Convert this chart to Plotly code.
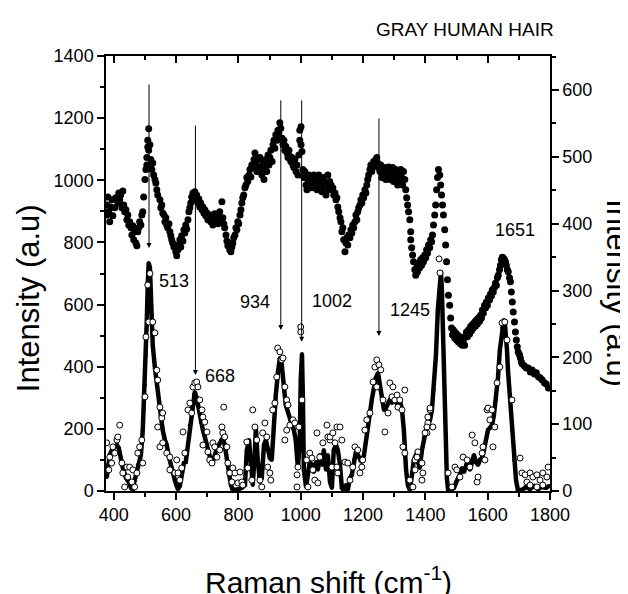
import plotly.graph_objects as go

# ---- data (x: Raman shift cm-1) ----
# raw spectrum (filled dots), right axis units
top_points = [
(377.5,428),(377.5,413),(381,440),(384,418),(387,403),(390,425),(394,436),(397,412),(403,424),(406,439),
(413,431),(416,446),(419,436),(422,443),(426,424),(429,449),(432,428),(435,418),(439,421),(442,406),
(445,413),(448,398),(451,403),(455,394),(458,383),(461,397),(464,376),(467,388),(471,371),(474,367),
(477,388),(480,394),(483,403),(487,398),(490,413),(493,418),(496,440),(500,466),(503,481),(506,488),
(506,499),(509,515),(509,525),(512,510),(512,542),(516,518),(519,496),(519,488),(522,481),(525,491),
(528,473),(532,466),(535,461),(538,451),(541,443),(548,436),(551,424),(554,428),(557,416),(561,413),
(564,403),(567,409),(570,398),(573,394),(577,400),(580,388),(583,382),(586,376),(589,371),(593,365),
(596,368),(599,358),(602,352),(606,361),(609,368),(612,376),(615,365),(618,382),(622,374),(625,391),
(628,386),(631,398),(634,392),(638,406),(641,418),(644,424),(647,431),(650,440),(654,446),(657,436),
(660,448),(663,440),(666,443),(670,431),(673,437),(676,425),(679,431),(683,421),(686,425),(689,416),
(692,421),(695,412),(699,416),(702,406),(705,413),(708,409),(711,403),(715,413),(718,398),(721,407),
(724,415),(728,403),(731,409),(734,400),(737,410),(740,418),(744,406),(747,433),(750,409),(753,400),
(756,394),(760,383),(763,374),(766,367),(769,371),(772,361),(776,358),(779,365),(782,371),(785,379),
(789,383),(792,394),(795,391),(798,403),(801,400),(805,413),(808,421),(811,431),(814,439),(817,443),
(821,454),(824,458),(827,469),(830,463),(834,473),(837,481),(840,470),(843,488),(846,484),(850,496),
(853,506),(856,488),(859,478),(863,496),(866,485),(869,499),(872,481),(875,473),(879,491),(882,466),
(885,484),(888,496),(891,478),(895,503),(898,488),(901,499),(904,510),(908,493),(911,518),(914,525),
(917,513),(920,533),(924,525),(927,540),(930,536),(933,551),(936,543),(940,528),(943,518),(946,525),
(949,510),(952,516),(956,506),(959,499),(962,510),(965,501),(968,493),(972,499),(975,488),(978,484),
(981,496),(985,478),(988,488),(991,473),(994,503),(997,525),(997,540),(1001,545),(1001,518),(1004,508),
(1007,481),(1010,469),(1013,478),(1017,458),(1020,451),(1023,466),(1026,473),(1029,458),(1033,469),(1036,454),
(1039,463),(1042,473),(1045,458),(1049,469),(1052,451),(1055,461),(1058,473),(1061,455),(1065,466),(1068,448),
(1071,458),(1074,469),(1077,454),(1081,443),(1084,461),(1087,473),(1090,451),(1093,463),(1097,458),(1100,451),
(1103,454),(1106,443),(1110,446),(1113,436),(1116,439),(1119,425),(1122,418),(1126,409),(1129,403),(1132,388),
(1135,394),(1138,376),(1142,358),(1145,371),(1148,379),(1151,368),(1154,383),(1158,379),(1161,391),(1164,386),
(1167,398),(1170,394),(1174,403),(1177,413),(1180,406),(1183,418),(1186,424),(1190,428),(1193,436),(1196,431),
(1199,443),(1202,439),(1206,451),(1209,446),(1212,458),(1215,466),(1218,473),(1222,481),(1225,488),(1228,478),
(1231,484),(1234,493),(1238,488),(1241,496),(1244,499),(1247,491),(1250,484),(1254,478),(1257,488),(1260,469),
(1263,481),(1266,473),(1270,484),(1273,466),(1276,478),(1279,472),(1282,485),(1286,466),(1289,478),(1292,472),
(1295,484),(1298,463),(1302,475),(1305,481),(1308,469),(1311,458),(1314,473),(1318,466),(1321,481),(1324,469),
(1327,458),(1330,478),(1334,466),(1337,451),(1340,439),(1343,428),(1346,418),(1350,406),(1353,388),(1353,376),
(1356,364),(1359,353),(1362,343),(1366,331),(1369,323),(1372,334),(1375,328),(1378,341),(1382,334),(1385,346),
(1388,338),(1391,349),(1394,343),(1398,353),(1401,349),(1404,361),(1407,356),(1410,368),(1414,364),(1417,376),
(1420,373),(1423,383),(1426,398),(1430,413),(1433,428),(1436,451),(1439,469),(1442,481),(1446,473),(1449,458),
(1452,443),(1455,428),(1458,413),(1462,391),(1465,368),(1468,343),(1471,316),(1474,293),(1478,278),(1481,259),
(1484,244),(1487,234),(1490,241),(1494,229),(1497,237),(1500,226),(1503,234),(1506,223),(1510,231),(1513,220),
(1516,229),(1519,218),(1522,226),(1526,218),(1529,232),(1532,238),(1535,231),(1538,241),(1542,235),(1545,246),
(1548,240),(1551,249),(1554,244),(1558,253),(1561,247),(1564,256),(1567,250),(1570,259),(1574,254),(1577,263),
(1580,259),(1583,271),(1586,266),(1590,278),(1593,274),(1596,283),(1599,278),(1602,289),(1606,286),(1609,295),
(1612,292),(1615,301),(1618,298),(1622,305),(1625,311),(1628,308),(1631,319),(1634,323),(1638,331),(1641,338),
(1644,346),(1647,350),(1650,349),(1654,346),(1657,343),(1660,338),(1663,331),(1666,328),(1670,319),(1673,313),
(1676,298),(1679,283),(1682,268),(1686,253),(1689,238),(1692,226),(1695,216),(1698,208),(1702,204),(1705,199),
(1708,193),(1711,190),(1718,187),(1724,184),(1730,184),(1737,178),(1743,181),(1750,175),(1756,177),(1763,171),
(1769,169),(1775,166),(1782,162),(1788,160),(1795,154),
]

# processed spectrum, smoothed curve (thick line), left axis units
line_points = [
(377.5,45),(381,84),(387,116),(394,132),(403,142),(410,148),(416,138),(422,106),(429,74),(439,42),
(448,29),(455,10),(461,3),(467,35),(477,84),(487,116),(493,196),(496,261),(500,341),(503,438),
(506,550),(509,663),(512,734),(516,718),(519,631),(522,550),(525,470),(532,396),(538,341),(545,293),
(551,245),(557,196),(564,164),(570,148),(577,109),(583,80),(589,58),(596,35),(602,16),(606,6),
(612,16),(618,52),(625,90),(631,93),(638,148),(644,212),(650,267),(657,309),(660,319),(666,299),
(673,261),(679,222),(686,196),(692,174),(699,148),(705,126),(711,100),(718,93),(724,116),(731,138),
(737,148),(744,164),(750,171),(756,148),(763,100),(769,52),(776,19),(782,3),(792,3),(801,6),
(811,10),(821,19),(827,132),(834,164),(840,93),(846,19),(853,132),(856,203),(862,100),(869,29),
(875,42),(882,148),(888,164),(895,132),(901,106),(907,100),(914,229),(920,309),(927,383),(933,428),
(939,406),(946,341),(952,277),(959,254),(965,229),(972,212),(978,196),(984,164),(991,74),(997,164),
(1000,357),(1004,441),(1007,293),(1010,68),(1017,13),(1023,52),(1029,93),(1036,84),(1042,61),(1049,93),
(1055,68),(1061,116),(1068,84),(1074,132),(1081,68),(1087,116),(1094,29),(1100,10),(1106,132),(1113,148),
(1119,132),(1126,84),(1132,10),(1138,3),(1145,19),(1151,3),(1158,42),(1164,52),(1171,100),(1177,126),
(1183,116),(1190,100),(1196,93),(1203,116),(1209,164),(1216,212),(1222,245),(1228,293),(1235,332),(1241,364),
(1248,380),(1254,341),(1261,293),(1267,261),(1273,267),(1280,283),(1286,293),(1293,283),(1299,299),(1305,286),
(1312,277),(1318,293),(1325,261),(1331,196),(1334,116),(1338,68),(1344,19),(1350,3),(1357,52),(1363,100),
(1370,116),(1376,93),(1382,74),(1389,132),(1395,171),(1402,196),(1408,212),(1415,229),(1421,261),(1427,325),
(1434,438),(1440,583),(1447,702),(1450,705),(1453,647),(1456,518),(1460,357),(1463,229),(1466,116),(1469,42),
(1473,3),(1482,3),(1492,10),(1498,29),(1505,42),(1511,52),(1518,74),(1524,61),(1530,84),(1537,100),
(1543,68),(1550,100),(1556,116),(1562,93),(1569,84),(1575,100),(1582,106),(1588,132),(1594,164),(1601,196),
(1607,203),(1614,212),(1620,245),(1626,293),(1633,364),(1639,454),(1646,525),(1649,547),(1652,550),(1655,541),
(1659,502),(1662,454),(1665,390),(1672,293),(1678,196),(1684,100),(1691,35),(1697,3),(1710,3),(1723,13),
(1736,6),(1749,16),(1762,6),(1774,13),(1787,10),(1797,16),
]

# processed spectrum, measured points (open circles), left axis units
circle_points = [
(377,155),(387,109),(384,68),(393,90),(397,142),(410,164),(413,174),(419,212),(403,122),(426,90),
(429,58),(435,13),(442,77),(445,45),(451,77),(458,29),(461,68),(467,13),(474,58),(477,122),
(483,142),(490,164),(493,90),(500,303),(503,496),(512,544),(509,663),(516,700),(525,544),(532,509),
(538,389),(541,357),(548,270),(554,235),(557,251),(541,206),(548,142),(557,155),(570,122),(580,109),
(580,68),(596,58),(602,100),(606,58),(612,35),(618,74),(622,190),(628,122),(638,261),(644,283),
(650,251),(654,335),(660,348),(666,351),(670,335),(676,293),(683,261),(686,238),(686,148),(692,222),
(699,190),(702,126),(708,100),(715,90),(718,155),(724,142),(731,109),(740,132),(747,206),(750,187),
(753,270),(756,174),(763,142),(766,90),(772,58),(779,29),(782,74),(789,58),(798,26),(805,61),
(811,29),(814,19),(827,158),(830,74),(843,35),(846,261),(853,206),(859,164),(869,35),(875,13),
(878,187),(885,219),(891,174),(894,77),(901,58),(904,35),(910,261),(917,283),(923,367),(926,460),
(933,448),(939,422),(943,428),(949,335),(955,293),(959,277),(955,196),(949,164),(965,212),(975,229),
(981,219),(988,52),(988,13),(991,77),(994,206),(1000,528),(1000,512),(1004,293),(1019,100),(1023,13),
(1029,122),(1036,106),(1039,68),(1045,35),(1052,187),(1055,26),(1061,109),(1071,155),(1084,212),(1087,174),
(1094,164),(1100,77),(1110,155),(1116,206),(1119,58),(1094,174),(1103,187),(1126,206),(1116,77),(1132,164),
(1142,93),(1151,90),(1158,35),(1167,77),(1174,142),(1183,132),(1190,58),(1196,77),(1199,100),(1206,196),
(1212,229),(1222,251),(1232,351),(1238,399),(1244,422),(1251,406),(1257,390),(1244,335),(1264,293),(1270,190),
(1280,251),(1286,348),(1293,303),(1296,335),(1302,293),(1309,309),(1312,270),(1318,293),(1325,261),(1334,325),
(1328,142),(1334,122),(1350,35),(1360,13),(1367,100),(1376,122),(1389,90),(1392,58),(1405,187),(1408,219),
(1415,261),(1424,206),(1415,267),(1408,238),(1405,206),(1399,187),(1376,126),(1373,109),(1367,68),(1389,35),
(1444,747),(1447,702),(1473,58),(1485,13),(1495,77),(1501,68),(1511,45),(1521,109),(1534,100),(1543,77),
(1550,180),(1559,155),(1566,29),(1569,45),(1582,122),(1585,142),(1591,100),(1598,261),(1601,267),(1607,229),
(1614,261),(1617,142),(1623,206),(1630,348),(1639,399),(1646,541),(1655,544),(1662,486),(1678,293),(1704,106),
(1710,58),(1720,52),(1726,29),(1736,58),(1745,45),(1758,52),(1768,35),(1777,58),(1790,45),(1794,77),
(1736,19),(1758,13),(1777,19),
]

x_ticks = [400, 600, 800, 1000, 1200, 1400, 1600, 1800]
left_ticks = [0, 200, 400, 600, 800, 1000, 1200, 1400]
right_ticks = [0, 100, 200, 300, 400, 500, 600]

peak_labels = ["513", "668", "934", "1002", "1245", "1651"]

FONT = "Liberation Sans, Arial, sans-serif"

tx, ty = zip(*top_points)
lx, ly = zip(*line_points)
cx, cy = zip(*circle_points)

fig = go.Figure()
fig.add_trace(go.Scatter(x=lx, y=ly, mode="lines+markers",
                         line=dict(color="black", width=4.5),
                         marker=dict(size=4, color="black"), showlegend=False))
fig.add_trace(go.Scatter(x=cx, y=cy, mode="markers",
                         marker=dict(size=6, color="white", line=dict(color="black", width=1)),
                         showlegend=False))
fig.add_trace(go.Scatter(x=tx, y=ty, mode="markers", yaxis="y2",
                         marker=dict(size=7, color="black", line=dict(width=0)),
                         showlegend=False))
# empty trace to carry the top mirror axis
fig.add_trace(go.Scatter(x=[], y=[], xaxis="x2", showlegend=False))

axis_common = dict(showline=True, linecolor="black", linewidth=1.5, showgrid=False,
                   zeroline=False, tickcolor="black", tickwidth=1.5,
                   tickfont=dict(family=FONT, size=18, color="black"))

# the page body has an 8 px default margin, so the figure is 8 px smaller
fig.update_layout(
    width=620, height=586,
    margin=dict(l=98, r=78, t=48, b=103),
    paper_bgcolor="white", plot_bgcolor="white",
    xaxis=dict(range=[375, 1800], tickvals=x_ticks, ticks="outside", ticklen=7,
               minor=dict(dtick=100, tick0=0, ticks="outside", ticklen=4, tickwidth=1.5, tickcolor="black"),
               **axis_common),
    xaxis2=dict(range=[375, 1800], overlaying="x", side="top", anchor="y",
                tickvals=x_ticks, ticks="inside", ticklen=7, showticklabels=False,
                minor=dict(dtick=100, tick0=0, ticks="inside", ticklen=4, tickwidth=1.5, tickcolor="black"),
                **axis_common),
    yaxis=dict(range=[0, 1400], tickvals=left_ticks, ticks="outside", ticklen=7,
               minor=dict(dtick=100, tick0=0, ticks="outside", ticklen=4, tickwidth=1.5, tickcolor="black"),
               **axis_common),
    yaxis2=dict(range=[0, 651], overlaying="y", side="right", anchor="x",
                tickvals=right_ticks, ticks="outside", ticklen=7,
                minor=dict(dtick=50, tick0=0, ticks="outside", ticklen=4, tickwidth=1.5, tickcolor="black"),
                **axis_common),
)

ann = []
title_font = dict(family=FONT, size=31, color="black")
ann.append(dict(text="Raman shift (cm<sup>-1</sup>)", xref="paper", yref="paper", x=0.5, y=-0.205,
                xanchor="center", yanchor="middle", showarrow=False,
                font=dict(family=FONT, size=30, color="black")))
ann.append(dict(text="Intensity (a.u)", xref="paper", yref="paper", x=-0.176, y=0.443,
                xanchor="center", yanchor="middle", textangle=-90, showarrow=False, font=title_font))
ann.append(dict(text="Intensity (a.u)", xref="paper", yref="paper", x=1.153, y=0.455,
                xanchor="center", yanchor="middle", textangle=90, showarrow=False, font=title_font))
ann.append(dict(text="GRAY HUMAN HAIR", xref="paper", yref="paper", x=1.0135, y=1.062,
                xanchor="right", yanchor="middle", showarrow=False,
                font=dict(family=FONT, size=19, color="black")))

# arrows: (arrow x, top, tip)
arrows = [(513, 1313, 782), (662, 1181, 373), (936, 1262, 518), (1003, 1262, 480), (1251, 1204, 499)]
for ax_, top, tip in arrows:
    ann.append(dict(x=ax_, y=tip, ax=ax_, ay=top, xref="x", yref="y", axref="x", ayref="y",
                    text="", showarrow=True, arrowhead=2, arrowsize=1, arrowwidth=1,
                    arrowcolor="black", standoff=0, startstandoff=0))

label_pos = [(538, 676, "left"), (686, 370, "left"), (907, 608, "right"),
             (1029, 612, "left"), (1280, 583, "left"), (1617, 840, "left")]
for lab, (lx_, ly_, anc) in zip(peak_labels, label_pos):
    ann.append(dict(text=lab, x=lx_, y=ly_, xref="x", yref="y", xanchor=anc, yanchor="middle",
                    showarrow=False, font=dict(family=FONT, size=18, color="black")))

fig.update_layout(annotations=ann)
fig.write_html("out.html")
